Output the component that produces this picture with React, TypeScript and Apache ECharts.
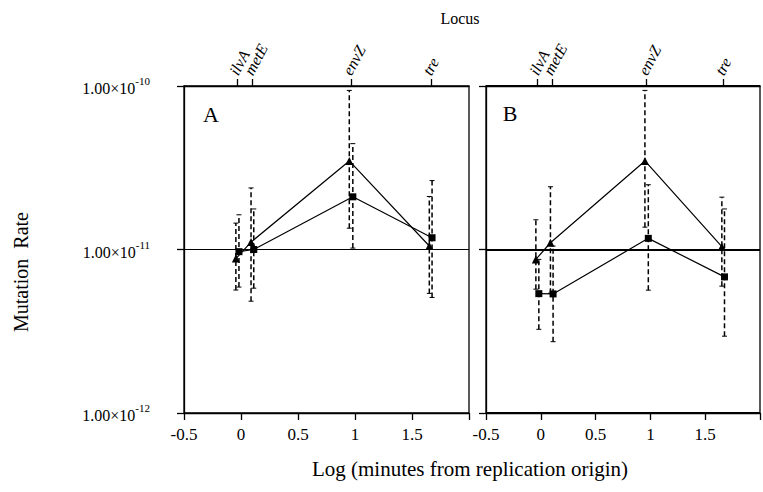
import React, { useEffect, useRef } from "react";
import * as echarts from "echarts";

// Loci (top axis)
const lociNames = ["ilvA", "metE", "envZ", "tre"];
const lociX = [-0.03, 0.1, 0.965, 1.665];

// x positions of the plotted points (log minutes)
const triX = [-0.045, 0.088, 0.95, 1.652];
const sqX = [-0.018, 0.112, 0.981, 1.676];

// Panel A
const aTri = [8.8e-12, 1.11e-11, 3.48e-11, 1.05e-11];
const aTriLo = [5.65e-12, 4.83e-12, 1.35e-11, 5.39e-12];
const aTriHi = [1.45e-11, 2.38e-11, 9.4e-11, 2.11e-11];
const aSq = [9.7e-12, 1.0e-11, 2.1e-11, 1.18e-11];
const aSqLo = [5.89e-12, 5.8e-12, 1.02e-11, 5.09e-12];
const aSqHi = [1.63e-11, 1.77e-11, 4.44e-11, 2.64e-11];

// Panel B
const bTri = [8.7e-12, 1.1e-11, 3.48e-11, 1.04e-11];
const bTriLo = [5.72e-12, 5.4e-12, 1.37e-11, 5.97e-12];
const bTriHi = [1.52e-11, 2.42e-11, 9.4e-11, 2.09e-11];
const bSq = [5.37e-12, 5.35e-12, 1.17e-11, 6.8e-12];
const bSqLo = [3.25e-12, 2.73e-12, 5.64e-12, 2.95e-12];
const bSqHi = [8.7e-12, 1.05e-11, 2.49e-11, 1.77e-11];

// Tick labels
const xTickLabels = ["-0.5", "0", "0.5", "1", "1.5", ""];
const yTickMantissa = "1.00\u00d710";
const yTickExponents = ["-12", "-11", "-10"];

const FONT = "'Liberation Serif', 'DejaVu Serif', serif";

function pairs(xs: number[], ys: number[]) {
  return xs.map((x, i) => [x, ys[i]]);
}
function bars(xs: number[], lo: number[], hi: number[]) {
  return xs.map((x, i) => [x, lo[i], hi[i]]);
}

const renderErr = (params: any, api: any) => {
  const x = api.value(0);
  const lo = api.value(1);
  const hi = api.value(2);
  const pLo = api.coord([x, lo]);
  const pHi = api.coord([x, hi]);
  const cap = 2.5;
  return {
    type: "group",
    children: [
      {
        type: "line",
        shape: { x1: pLo[0], y1: pLo[1], x2: pHi[0], y2: pHi[1] },
        style: { stroke: "#000", lineWidth: 1.5, lineDash: [5, 3] },
      },
      {
        type: "line",
        shape: { x1: pHi[0] - cap, y1: pHi[1], x2: pHi[0] + cap, y2: pHi[1] },
        style: { stroke: "#000", lineWidth: 1 },
      },
      {
        type: "line",
        shape: { x1: pLo[0] - cap, y1: pLo[1], x2: pLo[0] + cap, y2: pLo[1] },
        style: { stroke: "#000", lineWidth: 1 },
      },
    ],
  };
};

export default function App() {
  const ref = useRef<HTMLDivElement>(null);
  useEffect(() => {
    if (!ref.current) return;
    const chart = echarts.init(ref.current, undefined, { renderer: "svg" });

    const bottomAxis = (gi: number) => ({
      type: "value",
      gridIndex: gi,
      position: "bottom",
      min: -0.5,
      max: 2,
      interval: 0.5,
      axisLine: { show: true, onZero: false, lineStyle: { color: "#000", width: 1.3 } },
      axisTick: { show: true, inside: false, length: 7, lineStyle: { color: "#000", width: 1.3 } },
      axisLabel: {
        show: true,
        color: "#000",
        fontFamily: FONT,
        fontSize: 17,
        margin: 13,
        formatter: (v: number, i: number) => xTickLabels[i] ?? "",
      },
      splitLine: { show: false },
    });

    // one top axis per subset of loci, so that neighbouring labels are not hidden
    const topAxis = (gi: number, idx: number[], withLine: boolean) => {
      const vals = idx.map((k) => lociX[k]);
      return {
        type: "value",
        gridIndex: gi,
        position: "top",
        offset: 0,
        min: -0.5,
        max: 2,
        axisLine: { show: withLine, onZero: false, lineStyle: { color: "#000", width: 1.3 } },
        axisTick: {
          show: true,
          inside: false,
          length: 7,
          customValues: vals,
          lineStyle: { color: "#000", width: 1.3 },
        },
        axisLabel: {
          show: true,
          customValues: vals,
          rotate: -62,
          margin: 3,
          verticalAlign: "bottom",
          padding: [0, 0, 0, 6],
          hideOverlap: false,
          color: "#000",
          fontFamily: FONT,
          fontStyle: "italic",
          fontSize: 16,
          formatter: (v: number) => {
            const k = lociX.findIndex((x) => Math.abs(x - v) < 1e-6);
            return k >= 0 ? lociNames[k] : "";
          },
        },
        splitLine: { show: false },
      };
    };

    const yAxis = (gi: number, showLabel: boolean, gridW: number) => ({
      type: "log",
      logBase: 10,
      gridIndex: gi,
      min: 1e-12,
      max: 1e-10,
      axisLine: { show: true, onZero: false, lineStyle: { color: "#000", width: 1.3 } },
      axisTick: { show: true, inside: false, length: 7, lineStyle: { color: "#000", width: 1.3 } },
      minorTick: { show: false },
      splitLine: { show: true, lineStyle: { color: "#000", width: gridW, type: "solid" } },
      axisLabel: {
        show: showLabel,
        margin: 34,
        formatter: (v: number, i: number) => `{m|${yTickMantissa}}{s|${yTickExponents[i] ?? ""}}`,
        rich: {
          m: { fontFamily: FONT, fontSize: 16, color: "#000", verticalAlign: "bottom" },
          s: { fontFamily: FONT, fontSize: 11, color: "#000", verticalAlign: "bottom", padding: [0, 0, 10, 0] },
        },
      },
    });

    const lineSeries = (xi: number, yi: number, data: number[][], symbol: string, size: number) => ({
      type: "line",
      xAxisIndex: xi,
      yAxisIndex: yi,
      data,
      symbol,
      symbolSize: size,
      itemStyle: { color: "#000" },
      lineStyle: { color: "#000", width: 1.2 },
      z: 5,
    });

    const errSeries = (xi: number, yi: number, data: number[][]) => ({
      type: "custom",
      xAxisIndex: xi,
      yAxisIndex: yi,
      renderItem: renderErr,
      data,
      encode: { x: 0, y: [1, 2] },
      z: 3,
    });

    chart.setOption({
      animation: false,
      backgroundColor: "#fff",
      textStyle: { fontFamily: FONT },
      grid: [
        { left: 184, top: 86, width: 285, height: 327, show: true, borderColor: "#000", borderWidth: 1.3 },
        { left: 486, top: 86, width: 287, height: 327, show: true, borderColor: "#000", borderWidth: 1.3 },
      ],
      xAxis: [
        bottomAxis(0),
        bottomAxis(1),
        topAxis(0, [0, 2, 3], true),
        topAxis(1, [0, 2, 3], true),
        topAxis(0, [1], false),
        topAxis(1, [1], false),
      ],
      yAxis: [yAxis(0, true, 1.1), yAxis(1, false, 2)],
      graphic: [
        {
          type: "text",
          x: 460,
          y: 18,
          style: { text: "Locus", fontFamily: FONT, fontSize: 16, fill: "#000", align: "center", verticalAlign: "middle" },
        },
        {
          type: "text",
          x: 21,
          y: 272,
          rotation: Math.PI / 2,
          style: {
            text: "Mutation  Rate",
            fontFamily: FONT,
            fontSize: 20,
            fill: "#000",
            align: "center",
            verticalAlign: "middle",
          },
        },
        {
          type: "text",
          x: 470,
          y: 469,
          style: {
            text: "Log (minutes from replication origin)",
            fontFamily: FONT,
            fontSize: 21,
            fill: "#000",
            align: "center",
            verticalAlign: "middle",
          },
        },
        {
          type: "text",
          x: 211,
          y: 114,
          style: { text: "A", fontFamily: FONT, fontSize: 22, fill: "#000", align: "center", verticalAlign: "middle" },
        },
        {
          type: "text",
          x: 510,
          y: 113,
          style: { text: "B", fontFamily: FONT, fontSize: 22, fill: "#000", align: "center", verticalAlign: "middle" },
        },
      ],
      series: [
        errSeries(0, 0, bars(triX, aTriLo, aTriHi)),
        errSeries(0, 0, bars(sqX, aSqLo, aSqHi)),
        errSeries(1, 1, bars(triX, bTriLo, bTriHi)),
        errSeries(1, 1, bars(sqX, bSqLo, bSqHi)),
        lineSeries(0, 0, pairs(triX, aTri), "triangle", 8),
        lineSeries(0, 0, pairs(sqX, aSq), "rect", 7),
        lineSeries(1, 1, pairs(triX, bTri), "triangle", 8),
        lineSeries(1, 1, pairs(sqX, bSq), "rect", 7),
      ],
    });
    return () => chart.dispose();
  }, []);
  return (
    <div
      ref={ref}
      style={{ position: "fixed", left: 0, top: 0, width: 763, height: 492, background: "#fff" }}
    />
  );
}
